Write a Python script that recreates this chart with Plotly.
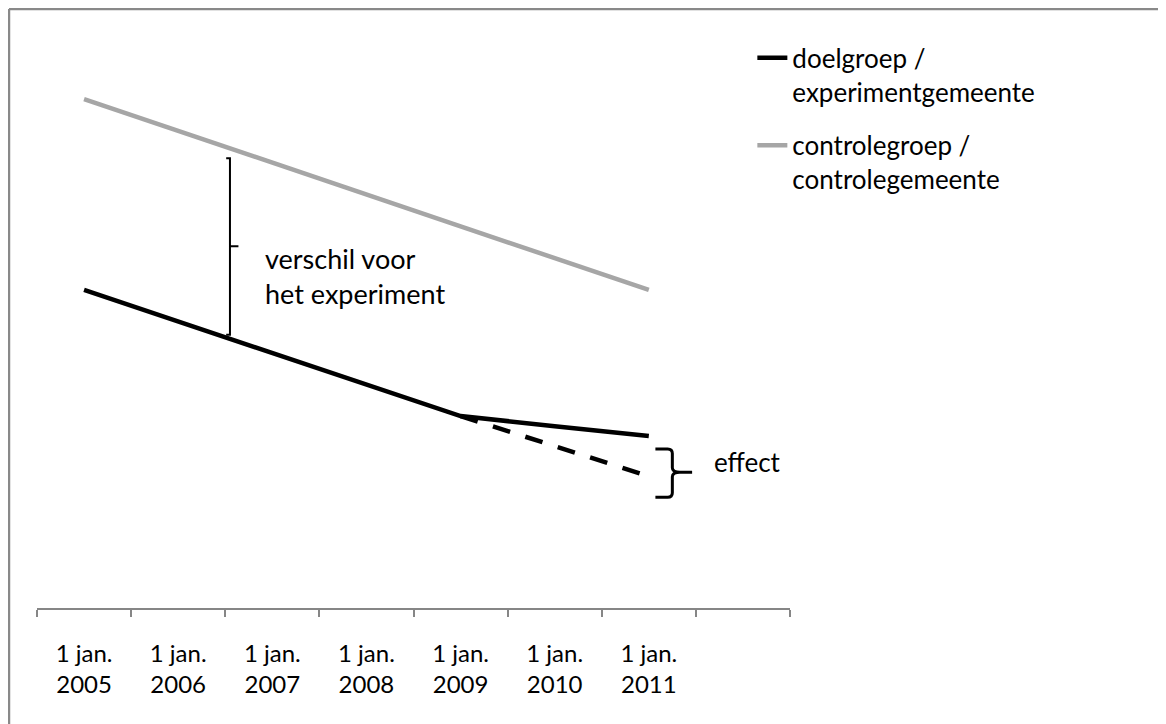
import plotly.graph_objects as go

years = [2005, 2006, 2007, 2008, 2009, 2010, 2011]
tick_labels = ["1 jan.<br>2005", "1 jan.<br>2006", "1 jan.<br>2007", "1 jan.<br>2008",
               "1 jan.<br>2009", "1 jan.<br>2010", "1 jan.<br>2011"]
control = [8.96, 8.40, 7.84, 7.28, 6.72, 6.16, 5.60]
target = [5.60, 5.05, 4.49, 3.94, 3.38, 3.20, 3.03]
counterfactual_years = [2009, 2010, 2011]
counterfactual = [3.38, 2.85, 2.32]

name_target = "doelgroep /<br>experimentgemeente"
name_control = "controlegroep /<br>controlegemeente"

FONT = "Lato, 'Noto Sans', sans-serif"
AXIS_GRAY = "#868686"

fig = go.Figure()
fig.add_trace(go.Scatter(x=counterfactual_years, y=counterfactual, mode="lines",
                         line=dict(color="black", width=4.5, dash="18px,16px"),
                         showlegend=False, hoverinfo="skip"))
fig.add_trace(go.Scatter(x=years, y=target, mode="lines", name=name_target,
                         legendgroup="a",
                         line=dict(color="black", width=4.5)))
fig.add_trace(go.Scatter(x=years, y=control, mode="lines", name=name_control,
                         legendgroup="b",
                         line=dict(color="#A6A6A6", width=4.5)))

boundaries = [y - 0.5 for y in years] + [years[-1] + 0.5, years[-1] + 1.5]

fig.update_xaxes(range=[years[0] - 0.5, years[-1] + 1.5],
                 tickmode="array", tickvals=years, ticktext=tick_labels,
                 ticks="", showline=True, linecolor=AXIS_GRAY, linewidth=1.5,
                 showgrid=False, zeroline=False,
                 tickfont=dict(family=FONT, size=24, color="black"),
                 ticklabelstandoff=23,
                 minor=dict(tickmode="array", tickvals=boundaries, ticks="outside",
                            ticklen=7, tickwidth=1.5, tickcolor=AXIS_GRAY, showgrid=False))
fig.update_yaxes(range=[0, 10], visible=False)

# bracket "verschil voor het experiment"
bracket = ("M 2006.51,7.92 L 2006.55,7.92 L 2006.55,4.81 L 2006.51,4.81 "
           "M 2006.55,6.37 L 2006.64,6.37")
fig.add_shape(type="path", path=bracket, xref="x", yref="y",
              line=dict(color="black", width=2))
# brace "effect"
brace = ("M 2011.07,2.80 L 2011.20,2.80 Q 2011.25,2.80 2011.25,2.72 L 2011.25,2.47 "
         "Q 2011.25,2.39 2011.33,2.39 L 2011.46,2.39 "
         "M 2011.33,2.39 Q 2011.25,2.39 2011.25,2.31 L 2011.25,2.03 "
         "Q 2011.25,1.95 2011.20,1.95 L 2011.07,1.95")
fig.add_shape(type="path", path=brace, xref="x", yref="y",
              line=dict(color="black", width=3))

fig.add_annotation(x=2006.90, y=5.85, xref="x", yref="y", text="verschil voor<br>het experiment",
                   showarrow=False, xanchor="left", yanchor="middle", align="left",
                   font=dict(family=FONT, size=27, color="black"))
fig.add_annotation(x=2011.67, y=2.57, xref="x", yref="y", text="effect",
                   showarrow=False, xanchor="left", yanchor="middle", align="left",
                   font=dict(family=FONT, size=26, color="black"))

# chart frame (top and left edges visible)
fig.add_shape(type="line", xref="paper", yref="paper", x0=-0.0372, x1=1.6, y0=1.0546, y1=1.0546,
              line=dict(color="#898989", width=2.5))
fig.add_shape(type="line", xref="paper", yref="paper", x0=-0.0372, x1=-0.0372, y0=1.0546, y1=-0.3,
              line=dict(color="#898989", width=2.5))

fig.update_layout(
    width=1158, height=716,
    margin=dict(l=29, r=376, t=32, b=116),
    paper_bgcolor="white", plot_bgcolor="white",
    font=dict(family=FONT, color="black"),
    legend=dict(x=0.95, y=1.01, xanchor="left", yanchor="top",
                font=dict(family=FONT, size=26, color="black"),
                tracegroupgap=17, valign="top", bgcolor="rgba(0,0,0,0)"),
)

fig.write_html("out.html")
